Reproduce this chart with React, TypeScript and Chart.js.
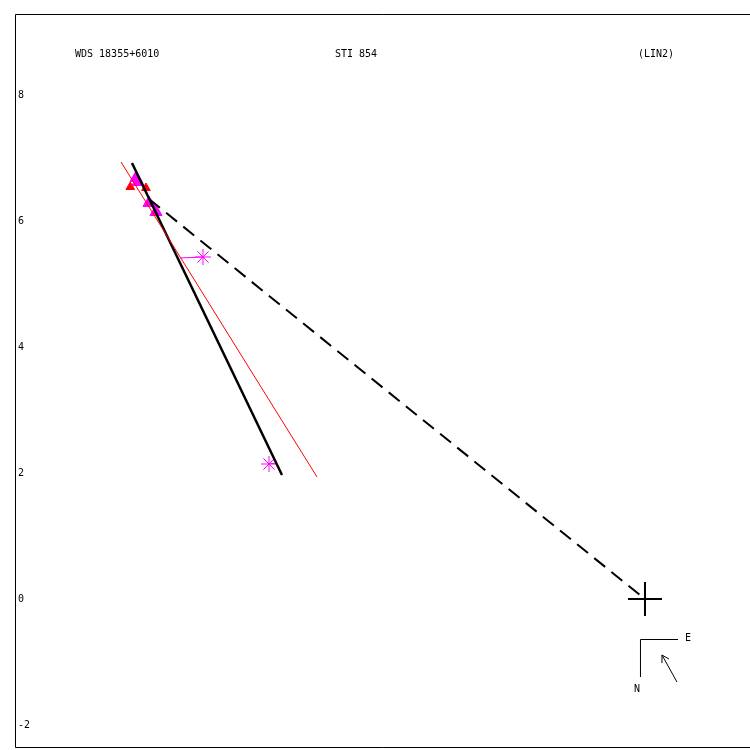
import React, { useEffect, useRef } from "react";
import { Chart, registerables } from "chart.js";

Chart.register(...registerables);

const titleTexts = ["WDS 18355+6010", "STI 854", "(LIN2)"];
const yTickValues = [-2, 0, 2, 4, 6, 8];
const xRange = [-10, 1.667];
const yRange = [-2.365, 9.286];

// orbit line (black), red line fit, dashed line to primary
const blackLine = [
  { x: -8.143, y: 6.921 },
  { x: -5.762, y: 1.968 },
];
const redLine = [
  { x: -8.317, y: 6.937 },
  { x: -5.206, y: 1.937 },
];
const dashedLine = [
  { x: -7.873, y: 6.349 },
  { x: 0, y: 0 },
];
// asterisk observations and their residual endpoints
const asteriskObs = [
  { x: -7.016, y: 5.429 },
  { x: -5.968, y: 2.143 },
];
const asteriskRes = [
  { x: -7.381, y: 5.413 },
  { x: -5.857, y: 2.159 },
];
// filled observations
const magentaObs = [
  { x: -8.079, y: 6.683 },
  { x: -8.048, y: 6.62 },
  { x: -7.873, y: 6.286 },
  { x: -7.762, y: 6.143 },
];
const redObs = [
  { x: -7.921, y: 6.524 },
  { x: -8.17, y: 6.54 },
];
const primary = [{ x: 0, y: 0 }];

const MAG = "#ff00ff";

export default function App() {
  const ref = useRef<HTMLCanvasElement | null>(null);

  useEffect(() => {
    if (!ref.current) return;
    Chart.defaults.font.family = "'DejaVu Sans Mono', monospace";

    const residualSets = asteriskObs.map((p, i) => ({
      type: "line" as const,
      data: [p, asteriskRes[i]],
      borderColor: MAG,
      borderWidth: 1,
      pointRadius: 0,
      showLine: true,
      fill: false,
    }));

    const framePlugin = {
      id: "frameAndText",
      afterDraw(chart: any) {
        const { ctx, chartArea, scales } = chart;
        ctx.save();
        ctx.strokeStyle = "#000";
        ctx.lineWidth = 1;
        ctx.beginPath();
        ctx.moveTo(chartArea.left + 0.5, chartArea.bottom - 0.5);
        ctx.lineTo(chartArea.left + 0.5, chartArea.top + 0.5);
        ctx.lineTo(chartArea.right, chartArea.top + 0.5);
        ctx.moveTo(chartArea.left + 0.5, chartArea.bottom - 0.5);
        ctx.lineTo(chartArea.right, chartArea.bottom - 0.5);
        ctx.stroke();

        // titles
        ctx.fillStyle = "#000";
        ctx.font = "10px 'DejaVu Sans Mono', monospace";
        ctx.textBaseline = "middle";
        ctx.textAlign = "left";
        const tx = [75, 335, 638];
        titleTexts.forEach((t, i) => ctx.fillText(t, tx[i], 54));

        // compass relative to primary
        const ox = scales.x.getPixelForValue(0);
        const oy = scales.y.getPixelForValue(0);
        ctx.lineWidth = 1;
        ctx.beginPath();
        ctx.moveTo(ox - 4.5, oy + 78);
        ctx.lineTo(ox - 4.5, oy + 40.5);
        ctx.lineTo(ox + 33, oy + 40.5);
        // arrow
        ctx.moveTo(ox + 32, oy + 83);
        ctx.lineTo(ox + 17, oy + 56);
        ctx.moveTo(ox + 17, oy + 56);
        ctx.lineTo(ox + 17, oy + 64);
        ctx.moveTo(ox + 17, oy + 56);
        ctx.lineTo(ox + 24, oy + 60);
        ctx.stroke();
        ctx.textAlign = "center";
        ctx.fillText("E", ox + 43, oy + 39);
        ctx.fillText("N", ox - 8, oy + 90);
        ctx.restore();
      },
    };

    const chart = new Chart(ref.current, {
      type: "scatter",
      data: {
        datasets: [
          {
            type: "line",
            data: redLine,
            borderColor: "#ff0000",
            borderWidth: 1,
            pointRadius: 0,
            fill: false,
          },
          {
            type: "line",
            data: blackLine,
            borderColor: "#000",
            borderWidth: 2.5,
            pointRadius: 0,
            fill: false,
          },
          {
            type: "line",
            data: dashedLine,
            borderColor: "#000",
            borderWidth: 2,
            borderDash: [14, 8],
            pointRadius: 0,
            fill: false,
          },
          ...residualSets,
          {
            data: asteriskObs,
            pointStyle: "star",
            pointRadius: 8,
            borderColor: MAG,
            backgroundColor: MAG,
            borderWidth: 1,
          },
          {
            data: magentaObs,
            pointStyle: "triangle",
            pointRadius: 7,
            borderColor: MAG,
            backgroundColor: MAG,
            borderWidth: 1,
          },
          {
            data: redObs,
            pointStyle: "triangle",
            pointRadius: 5,
            borderColor: "#ff0000",
            backgroundColor: "#ff0000",
            borderWidth: 1,
          },
          {
            data: primary,
            pointStyle: "cross",
            pointRadius: 17,
            borderColor: "#000",
            borderWidth: 2,
          },
        ] as any,
      },
      options: {
        animation: false,
        responsive: false,
        devicePixelRatio: 1,
        layout: { autoPadding: false, padding: { left: 15, top: 14, right: 0, bottom: 2 } },
        plugins: { legend: { display: false }, tooltip: { enabled: false } },
        scales: {
          x: {
            type: "linear",
            min: xRange[0],
            max: xRange[1],
            display: false,
          },
          y: {
            type: "linear",
            min: yRange[0],
            max: yRange[1],
            display: true,
            grid: { display: false, drawTicks: false },
            border: { display: false },
            afterFit: (s: any) => {
              s.width = 0;
              s.paddingTop = 0;
              s.paddingBottom = 0;
            },
            afterBuildTicks: (s: any) => {
              s.ticks = yTickValues.map((v) => ({ value: v }));
            },
            ticks: {
              mirror: true,
              padding: 3,
              color: "#000",
              font: { size: 10 },
              includeBounds: false,
            },
          },
        },
      } as any,
      plugins: [framePlugin],
    });
    return () => chart.destroy();
  }, []);

  return (
    <div style={{ position: "absolute", left: 0, top: 0, width: 750, height: 750, background: "#fff" }}>
      <canvas ref={ref} width={750} height={750} />
    </div>
  );
}
